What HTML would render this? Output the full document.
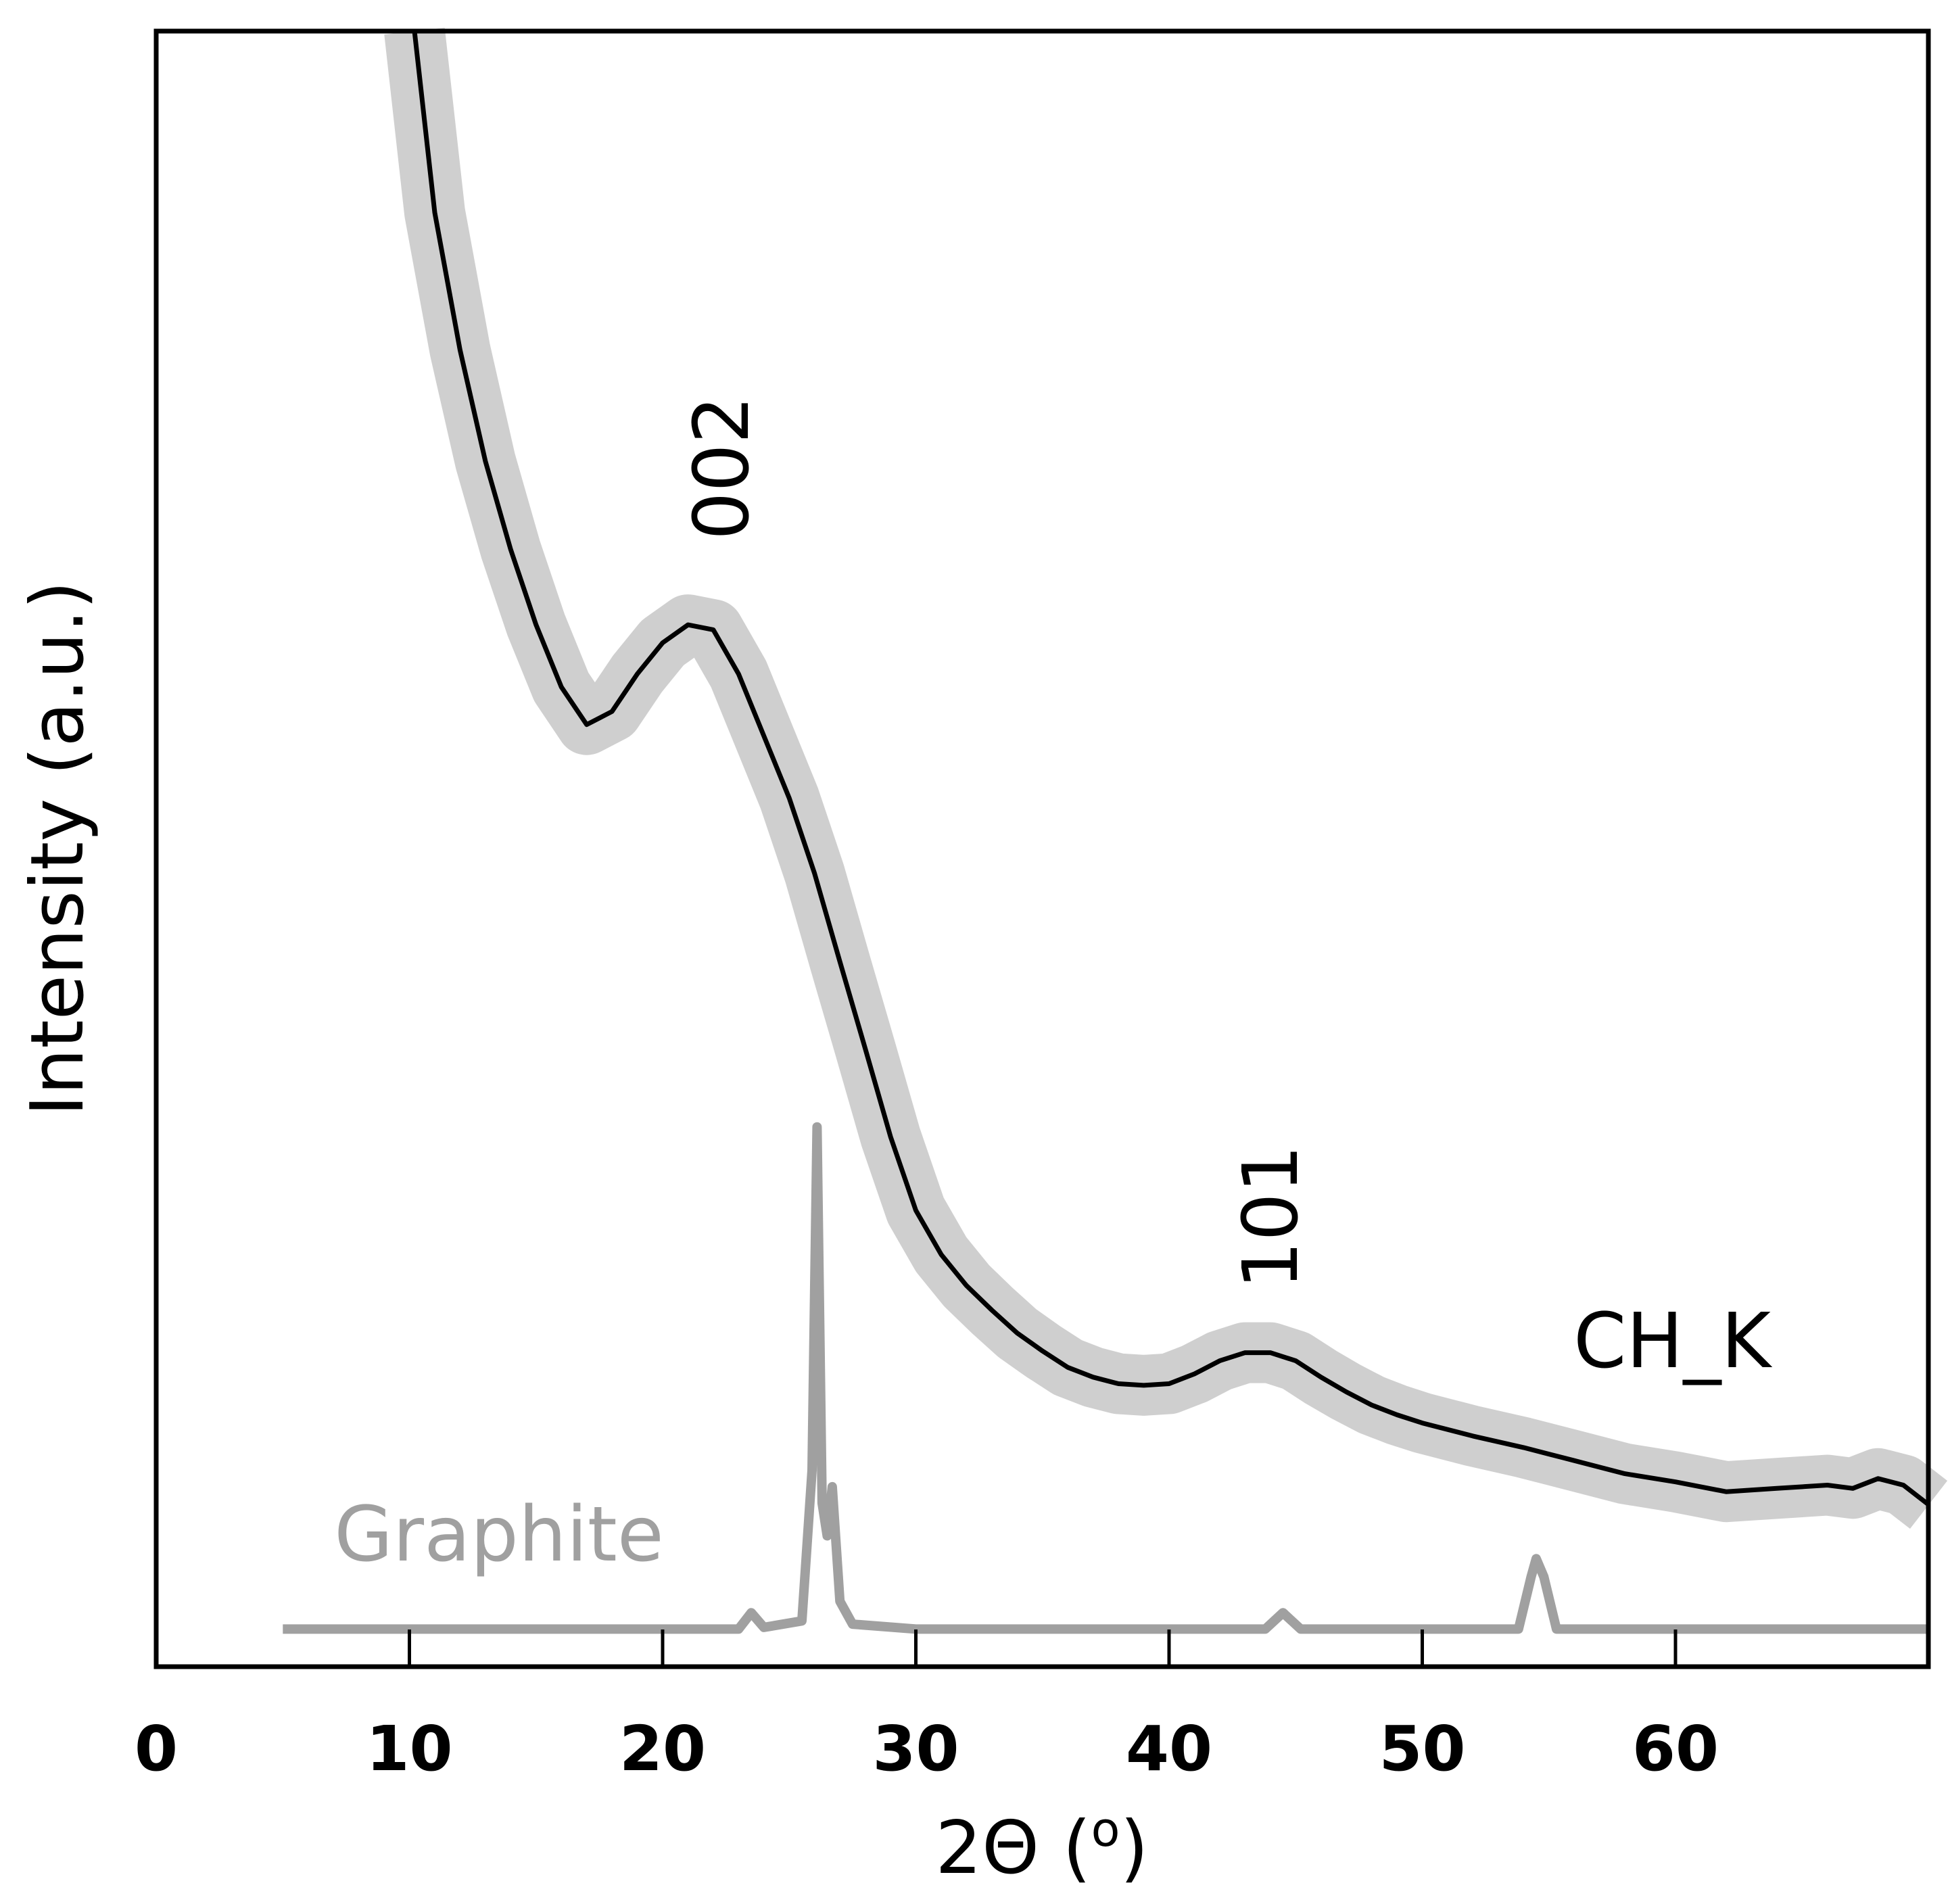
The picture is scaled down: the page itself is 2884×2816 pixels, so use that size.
<!DOCTYPE html>
<html><head><meta charset="utf-8"><style>
html,body{margin:0;padding:0;background:#fff;}
svg{display:block;font-family:"DejaVu Sans","Liberation Sans",sans-serif;}
</style></head><body>
<svg id="chart" width="2884" height="2816" viewBox="0 0 2884 2816" xmlns="http://www.w3.org/2000/svg">
<g id="plot"></g>
<rect x="231" y="46" width="2621" height="2419" fill="none" stroke="#000" stroke-width="7"/>
<g id="xticks" font-size="92" font-weight="bold" text-anchor="middle"></g>
<text x="1541" y="2770" font-size="108" text-anchor="middle">2Θ (<tspan font-size="70" dy="-40">o</tspan><tspan dy="40">)</tspan></text>
<text transform="translate(122,1255) rotate(-90)" font-size="108" text-anchor="middle">Intensity (a.u.)</text>
<text transform="translate(1106,692) rotate(-90)" font-size="112" text-anchor="middle">002</text>
<text transform="translate(1918,1800) rotate(-90)" font-size="112" text-anchor="middle">101</text>
<text x="2473" y="2022" font-size="112" text-anchor="middle">CH_K</text>
<text x="738" y="2308" font-size="112" fill="#a0a0a0" text-anchor="middle">Graphite</text>
</svg>
<script>
const chkX = [10.2,11,12,13,14,15,16,17,18,19,20,21,22,23,24,25,26,27,28,29,30,31,32,33,34,35,36,37,38,39,40,41,42,43,44,45,46,47,48,49,50,52,54,56,58,60,62,64,66,67,68,69,70];
const chkY = [100,88.9,80.5,73.7,68.3,63.7,59.9,57.6,58.4,60.7,62.6,63.7,63.4,60.7,56.9,53.1,48.5,43.1,37.8,32.4,27.9,25.2,23.3,21.8,20.4,19.3,18.3,17.7,17.3,17.2,17.3,17.9,18.7,19.2,19.2,18.7,17.7,16.8,16.0,15.4,14.9,14.1,13.4,12.6,11.8,11.3,10.7,10.9,11.1,10.9,11.5,11.1,9.9];
const grX = [5,23,23.5,24,25.5,25.9,26.1,26.3,26.5,26.7,27,27.5,30,43.8,44.5,45.2,53.8,54.3,54.5,54.8,55.3,70];
const grY = [2.3,2.3,3.3,2.4,2.8,12,33,10,8,11,4,2.6,2.3,2.3,3.3,2.3,2.3,5.5,6.6,5.5,2.3,2.3];
const xTicks = [0,10,20,30,40,50,60];

const NS="http://www.w3.org/2000/svg";
const xs = x => 231 + x*37.45;
const ys = v => 2465 - v*24.19;
const plot=document.getElementById('plot');
function pts(X,Y){return X.map((x,i)=>xs(x).toFixed(1)+','+ys(Y[i]).toFixed(1)).join(' ');}

const band=document.createElementNS(NS,'polyline');


band.setAttribute('points',pts(chkX,chkY));
band.setAttribute('fill','none');band.setAttribute('stroke','#a8a8a8');band.setAttribute('stroke-opacity','0.55');
band.setAttribute('stroke-width','90');band.setAttribute('stroke-linejoin','round');
plot.appendChild(band);

const gr=document.createElementNS(NS,'polyline');


gr.setAttribute('points',pts(grX,grY));
gr.setAttribute('fill','none');gr.setAttribute('stroke','#a0a0a0');gr.setAttribute('stroke-width','14');gr.setAttribute('stroke-linejoin','round');
plot.appendChild(gr);

const fit=document.createElementNS(NS,'polyline');


fit.setAttribute('points',pts(chkX,chkY));
fit.setAttribute('fill','none');fit.setAttribute('stroke','#000');fit.setAttribute('stroke-width','7');fit.setAttribute('stroke-linejoin','round');
plot.appendChild(fit);

const xt=document.getElementById('xticks');
xTicks.forEach(t=>{
  const l=document.createElementNS(NS,'line');
  
  
  l.setAttribute('x1',xs(t));l.setAttribute('x2',xs(t));l.setAttribute('y1',2465);l.setAttribute('y2',2410);
  l.setAttribute('stroke','#000');l.setAttribute('stroke-width','5');
  xt.appendChild(l);
  const tx=document.createElementNS(NS,'text');
  
  
  tx.setAttribute('x',xs(t));tx.setAttribute('y',2618);
  tx.textContent=t;
  xt.appendChild(tx);
});
</script>
</body></html>
